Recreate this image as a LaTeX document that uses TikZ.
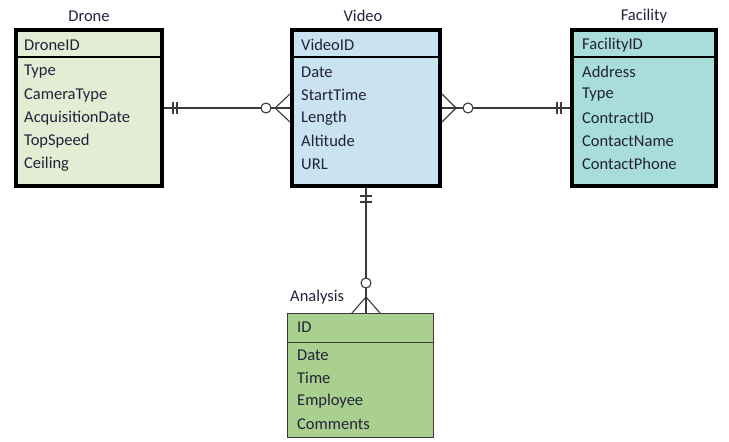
\documentclass[tikz,border=0pt]{standalone}
\usepackage{fontspec}
\setmainfont{Carlito}
\usetikzlibrary{calc}
\definecolor{dronefill}{HTML}{E3EDD3}
\definecolor{videofill}{HTML}{C9E3F1}
\definecolor{facfill}{HTML}{A8DDD9}
\definecolor{anafill}{HTML}{A9D08E}
\definecolor{txt}{HTML}{22223A}
\definecolor{lne}{HTML}{3A3A3A}
\begin{document}
\begin{tikzpicture}[x=1pt,y=-1pt,
  ent/.style={draw=black, line width=4pt, inner sep=0pt},
  entthin/.style={draw=lne, line width=1pt, inner sep=0pt},
  sep/.style={draw=black, line width=2.5pt},
  septhin/.style={draw=lne, line width=1pt},
  attr/.style={anchor=west, inner sep=0pt, text=txt, font=\fontsize{16.5}{18}\selectfont},
  ttl/.style={inner sep=0pt, text=txt, font=\fontsize{16.5}{18}\selectfont},
  conn/.style={draw=lne, line width=1.1pt},
  fcirc/.style={draw=lne, line width=1.1pt, fill=white}
]
\useasboundingbox (0,0) rectangle (729,442);

% entity boxes
\node[ent, fill=dronefill, minimum width=146, minimum height=156] (drone) at (89,108) {};
\node[ent, fill=videofill, minimum width=148, minimum height=156] (video) at (366,108) {};
\node[ent, fill=facfill, minimum width=144, minimum height=156] (facility) at (644,108) {};
\node[entthin, fill=anafill, minimum width=146, minimum height=124] (analysis) at (360.5,375.5) {};

% header separators
\draw[sep] (drone.west |- 0,57) -- (drone.east |- 0,57);
\draw[sep] (video.west |- 0,57) -- (video.east |- 0,57);
\draw[sep] (facility.west |- 0,57) -- (facility.east |- 0,57);
\draw[septhin] (analysis.west |- 0,342) -- (analysis.east |- 0,342);

% titles
\node[ttl] (droneT) at (89,16) {Drone};
\node[ttl] (videoT) at (363,16) {Video};
\node[ttl] (facT) at (644,16) {Facility};
\node[ttl, anchor=west] (anaT) at (290,297) {Analysis};

% attributes
\node[attr] (droneK) at (24,45) {DroneID};
\foreach \t [count=\i] in {Type,CameraType,AcquisitionDate,TopSpeed,Ceiling}
  \node[attr] (drone-\i) at (24,49+23*\i) {\t};
\node[attr] (videoK) at (301,45) {VideoID};
\foreach \t [count=\i] in {Date,StartTime,Length,Altitude,URL}
  \node[attr] (video-\i) at (301,49+23*\i) {\t};
\node[attr] (facK) at (582,45) {FacilityID};
\foreach \t [count=\i] in {Address,Type,ContractID,ContactName,ContactPhone}
  \node[attr] (fac-\i) at (582,49+23*\i) {\t};
\node[attr] (anaK) at (297,327) {ID};
\foreach \t [count=\i] in {Date,Time,Employee,Comments}
  \node[attr] (ana-\i) at (297,332+23*\i) {\t};

% Drone -- Video
\draw[conn] (drone.east) -- (video.west);
\draw[conn] ($(drone.east)+(9,-6)$) -- ++(0,12);
\draw[conn] ($(drone.east)+(13,-6)$) -- ++(0,12);
\draw[conn] ($(video.west)+(0,-14)$) -- ($(video.west)+(-15,0)$) -- ($(video.west)+(0,14)$);
\draw[fcirc] ($(video.west)+(-24,0)$) circle (5);

% Video -- Facility
\draw[conn] (video.east) -- (facility.west);
\draw[conn] ($(video.east)+(0,-14)$) -- ($(video.east)+(14,0)$) -- ($(video.east)+(0,14)$);
\draw[fcirc] ($(video.east)+(26,0)$) circle (5);
\draw[conn] ($(facility.west)+(-13,-6)$) -- ++(0,12);
\draw[conn] ($(facility.west)+(-9,-6)$) -- ++(0,12);

% Video -- Analysis
\coordinate (vbot) at (video.south |- analysis.north);
\draw[conn] (video.south) -- (vbot);
\draw[conn] ($(video.south)+(-6,8)$) -- ++(12,0);
\draw[conn] ($(video.south)+(-6,14)$) -- ++(12,0);
\draw[conn] ($(vbot)+(-14,0)$) -- ($(vbot)+(0,-16)$) -- ($(vbot)+(14,0)$);
\draw[fcirc] ($(vbot)+(0,-30)$) circle (5);
\end{tikzpicture}
\end{document}
